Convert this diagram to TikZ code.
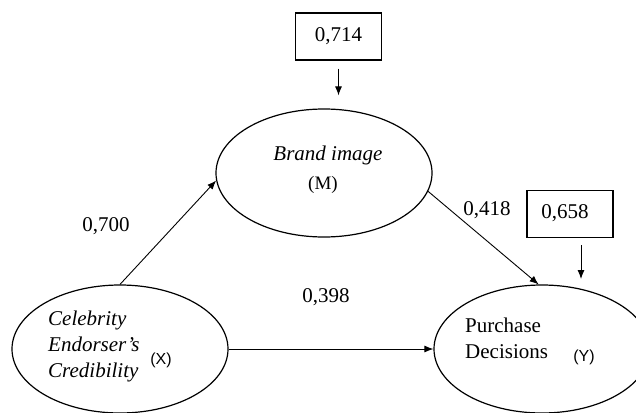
\documentclass[tikz,border=0pt]{standalone}
\usepackage{fontspec}
\setmainfont{Liberation Serif}
\newfontfamily\lsans{Liberation Sans}
\usetikzlibrary{shapes.geometric,arrows.meta}
\tikzset{
  var/.style={draw, ellipse, line width=1.2pt, minimum width=216pt, minimum height=128pt, inner sep=0pt},
  rbox/.style={draw, line width=1.2pt, minimum width=86pt, minimum height=47pt, inner sep=0pt},
  conn/.style={line width=0.9pt, -{Latex[length=9pt,width=7pt]}},
  lbl/.style={font=\fontsize{21}{25}\selectfont, inner sep=0pt},
  tag/.style={font=\lsans\fontsize{16}{19}\selectfont, inner sep=0pt},
}
\begin{document}
\begin{tikzpicture}[x=1pt,y=-1pt]
\useasboundingbox (0,0) rectangle (636,412);
\begin{scope}
\clip (0,0) rectangle (636,412);
\node[var] (M) at (324,173) {};
\node[var] (X) at (120,349) {};
\node[var] (Y) at (542,349) {};
\end{scope}
\node[rbox] (b1) at (338.5,36.5) {};
\node[lbl] (b1t) at (338.5,36) {0,714};
\node[rbox] (b2) at (570,214) {};
\node[lbl] (b2t) at (565,213) {0,658};
% texts inside ellipses
\node[lbl, anchor=base] (Mt) at (328,160) {\itshape Brand image};
\node[lbl, font=\fontsize{19}{23}\selectfont, anchor=base] (Mm) at (323,189) {(M)};
\node[lbl, anchor=base west] (X1) at (48,325) {\itshape Celebrity};
\node[lbl, anchor=base west] (X2) at (48,351) {\itshape Endorser's};
\node[lbl, anchor=base west] (X3) at (48,377) {\itshape Credibility};
\node[tag] (Xx) at (161,360) {(X)};
\node[lbl, anchor=base west] (Y1) at (465,332) {Purchase};
\node[lbl, anchor=base west] (Y2) at (465,358) {Decisions};
\node[tag] (Yy) at (584,357) {(Y)};
% coefficients
\node[lbl] (c1) at (106,226) {0,700};
\node[lbl] (c2) at (487,210) {0,418};
\node[lbl] (c3) at (326,297) {0,398};
% connectors
\draw[conn] (X.north) -- (M.184);
\draw[conn] (M.-10) -- (Y.93);
\draw[conn] (X.east) -- (Y.west);
\draw[conn, shorten <=8pt, shorten >=13pt] (b1.south) -- (b1.south |- M.north);
\coordinate (t2a) at (581,245);
\coordinate (t2b) at (581,279);
\draw[conn] (t2a) -- (t2b);
\end{tikzpicture}
\end{document}
